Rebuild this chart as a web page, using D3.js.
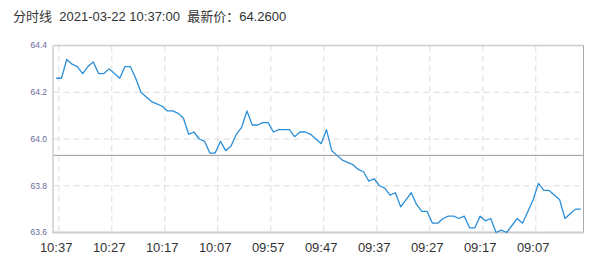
<!DOCTYPE html>
<html><head><meta charset="utf-8">
<script src="https://cdn.jsdelivr.net/npm/d3@7/dist/d3.min.js"></script>
<style>
html,body{margin:0;padding:0;background:#fff;}
svg{display:block;font-family:"Liberation Sans",Arial,"Noto Sans CJK SC",sans-serif;}
</style></head><body>
<svg id="c" width="607" height="267"></svg>
<script>
const titleText = "分时线  2021-03-22 10:37:00  最新价：64.2600";
const times = [
"10:37","10:36","10:35","10:34","10:33","10:32","10:31","10:30","10:29","10:28",
"10:27","10:26","10:25","10:24","10:23","10:22","10:21","10:20","10:19","10:18",
"10:17","10:16","10:15","10:14","10:13","10:12","10:11","10:10","10:09","10:08",
"10:07","10:06","10:05","10:04","10:03","10:02","10:01","10:00","09:59","09:58",
"09:57","09:56","09:55","09:54","09:53","09:52","09:51","09:50","09:49","09:48",
"09:47","09:46","09:45","09:44","09:43","09:42","09:41","09:40","09:39","09:38",
"09:37","09:36","09:35","09:34","09:33","09:32","09:31","09:30","09:29","09:28",
"09:27","09:26","09:25","09:24","09:23","09:22","09:21","09:20","09:19","09:18",
"09:17","09:16","09:15","09:14","09:13","09:12","09:11","09:10","09:09","09:08",
"09:07","09:06","09:05","09:04","09:03","09:02","09:01","09:00","08:59","08:58"];
const prices = [
64.26,64.26,64.34,64.32,64.31,64.28,64.31,64.33,64.28,64.28,
64.30,64.28,64.26,64.31,64.31,64.26,64.20,64.18,64.16,64.15,
64.14,64.12,64.12,64.11,64.09,64.02,64.03,64.00,63.99,63.94,
63.94,63.99,63.95,63.97,64.02,64.05,64.12,64.06,64.06,64.07,
64.07,64.03,64.04,64.04,64.04,64.01,64.03,64.03,64.02,64.00,
63.98,64.04,63.95,63.93,63.91,63.90,63.89,63.87,63.86,63.82,
63.83,63.80,63.79,63.76,63.77,63.71,63.74,63.77,63.72,63.69,
63.69,63.64,63.64,63.66,63.67,63.67,63.66,63.67,63.62,63.62,
63.67,63.65,63.66,63.60,63.61,63.60,63.63,63.66,63.64,63.69,
63.74,63.81,63.78,63.78,63.76,63.74,63.66,63.68,63.70,63.70];
const refPrice = 63.93;
const yTicks = [63.6, 63.8, 64.0, 64.2, 64.4];
const xTickLabels = ["10:37","10:27","10:17","10:07","09:57","09:47","09:37","09:27","09:17","09:07"];

const svg = d3.select("#c");
const L = 53.5, R = 583.5, T = 45.5, B = 232.5;
const x = d3.scaleBand().domain(times).range([L, R]).padding(0);
const bw = x.bandwidth();
const y = d3.scaleLinear().domain([63.6, 64.4]).range([B, T]);
const cx = t => x(t) + bw / 2;

// title
svg.append("text").attr("x", 13).attr("y", 20.5).attr("font-size", 13)
  .attr("fill", "#333").attr("xml:space", "preserve").style("white-space", "pre").text(titleText);

// horizontal dashed grid
svg.append("g").selectAll("line").data(yTicks.filter(v => v > 63.6 && v < 64.4)).join("line")
  .attr("x1", L).attr("x2", R).attr("y1", d => y(d)).attr("y2", d => y(d))
  .attr("stroke", "#dcdcdc").attr("stroke-width", 1).attr("stroke-dasharray", "6,4");

// vertical dashed grid at right boundary of labelled bands
svg.append("g").selectAll("line").data(xTickLabels).join("line")
  .attr("x1", d => x(d) + bw).attr("x2", d => x(d) + bw).attr("y1", T).attr("y2", B)
  .attr("stroke", "#dcdcdc").attr("stroke-width", 1).attr("stroke-dasharray", "6,4");

// reference line
svg.append("line").attr("x1", L).attr("x2", R).attr("y1", y(refPrice)).attr("y2", y(refPrice))
  .attr("stroke", "#999").attr("stroke-width", 1);

// frame
svg.append("line").attr("x1", L).attr("x2", R).attr("y1", T).attr("y2", T).attr("stroke", "#ccc").attr("stroke-width", 1.5);
svg.append("line").attr("x1", L - 0.5).attr("x2", L - 0.5).attr("y1", T).attr("y2", B).attr("stroke", "#ccc").attr("stroke-width", 1.5);
svg.append("line").attr("x1", R).attr("x2", R).attr("y1", T).attr("y2", B).attr("stroke", "#aaa").attr("stroke-width", 1);
svg.append("line").attr("x1", L - 1).attr("x2", R + 0.5).attr("y1", B).attr("y2", B).attr("stroke", "#ccc").attr("stroke-width", 2);

// y labels
svg.append("g").selectAll("text").data(yTicks).join("text")
  .attr("x", 47).attr("y", d => y(d)).attr("dy", "0.35em").attr("text-anchor", "end")
  .attr("font-size", 8.5).attr("fill", "#6a6a9a").text(d => d.toFixed(1));

// x labels
svg.append("g").selectAll("text").data(xTickLabels).join("text")
  .attr("x", d => cx(d)).attr("y", 251.5).attr("text-anchor", "middle")
  .attr("font-size", 13).attr("fill", "#333").text(d => d);

// price line
const line = d3.line().x((d, i) => cx(times[i])).y(d => y(d));
svg.append("path").datum(prices).attr("d", line).attr("fill", "none")
  .attr("stroke", "#2b8fd9").attr("stroke-width", 1.3).attr("stroke-linejoin", "round");
</script>
</body></html>
